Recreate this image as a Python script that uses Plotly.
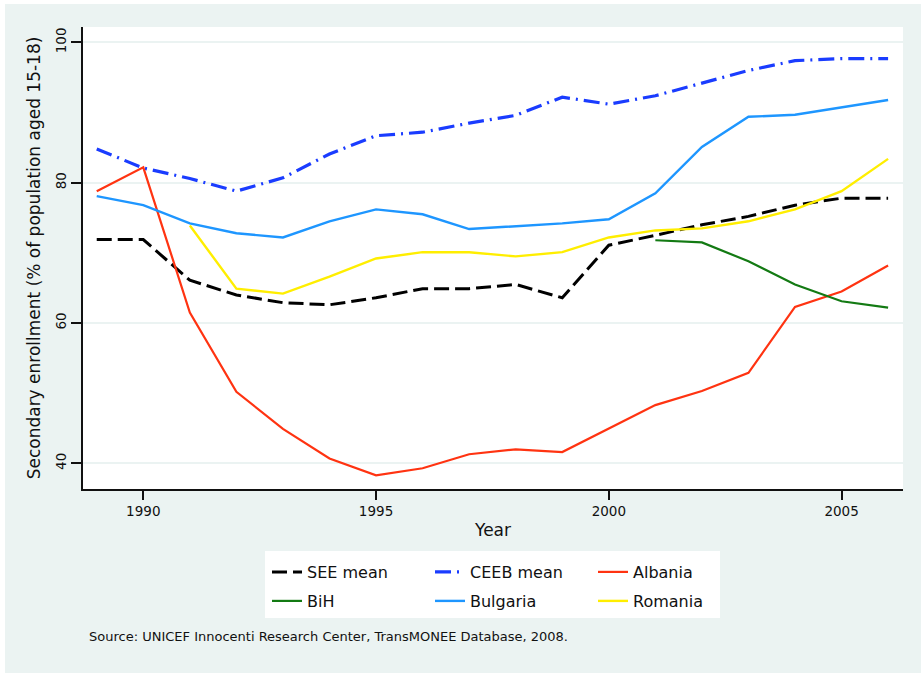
import plotly.graph_objects as go

# ---- data ----
years = list(range(1989, 2007))
see_mean = [71.9, 71.9, 66.1, 64.0, 62.9, 62.6, 63.6, 64.9, 64.9, 65.5, 63.6,
            71.1, 72.5, 74.0, 75.2, 76.8, 77.8, 77.8]
ceeb_mean = [84.8, 82.1, 80.6, 78.8, 80.7, 84.1, 86.7, 87.2, 88.5, 89.6, 92.2,
             91.2, 92.4, 94.2, 96.0, 97.4, 97.7, 97.7]
albania = [78.8, 82.2, 61.5, 50.2, 44.9, 40.7, 38.3, 39.3, 41.3, 42.0, 41.6,
           45.0, 48.3, 50.3, 52.9, 62.3, 64.5, 68.2]
bih_years = list(range(2001, 2007))
bih = [71.8, 71.5, 68.8, 65.5, 63.1, 62.2]
bulgaria = [78.1, 76.8, 74.2, 72.8, 72.2, 74.5, 76.2, 75.5, 73.4, 73.8, 74.2,
            74.8, 78.5, 85.1, 89.4, 89.7, 90.7, 91.8]
romania_years = list(range(1991, 2007))
romania = [73.9, 64.9, 64.2, 66.6, 69.2, 70.1, 70.1, 69.5, 70.1, 72.2, 73.2,
           73.5, 74.5, 76.2, 78.8, 83.4]

x_ticks = [1990, 1995, 2000, 2005]
y_ticks = [40, 60, 80, 100]

FONT = "DejaVu Sans"
BG = "#EBF3F2"

# layout geometry (pixels)
W, H = 921, 673
L, R, T, B = 83, 18, 27, 184
PW, PH = W - L - R, H - T - B


def px_x(p):
    return (p - L) / PW


def px_y(p):
    return 1 - (p - T) / PH


fig = go.Figure()

fig.add_trace(go.Scatter(x=years, y=see_mean, name="SEE mean", mode="lines",
                         line=dict(color="#000000", width=3, dash="15px,6px"),
                         legend="legend"))
fig.add_trace(go.Scatter(x=years, y=ceeb_mean, name="CEEB mean", mode="lines",
                         line=dict(color="#1A3CFF", width=3.2, dash="16px,6px,2px,6px"),
                         legend="legend"))
fig.add_trace(go.Scatter(x=years, y=albania, name="Albania", mode="lines",
                         line=dict(color="#FF3311", width=2.2),
                         legend="legend"))
fig.add_trace(go.Scatter(x=bih_years, y=bih, name="BiH", mode="lines",
                         line=dict(color="#137A13", width=2.2),
                         legend="legend2"))
fig.add_trace(go.Scatter(x=years, y=bulgaria, name="Bulgaria", mode="lines",
                         line=dict(color="#1E96FF", width=2.4),
                         legend="legend2"))
fig.add_trace(go.Scatter(x=romania_years, y=romania, name="Romania", mode="lines",
                         line=dict(color="#FFEE00", width=2.4),
                         legend="legend2"))

leg_common = dict(orientation="h", xref="paper", yref="paper",
                  xanchor="left", yanchor="top",
                  bgcolor="rgba(0,0,0,0)", borderwidth=0,
                  font=dict(family=FONT, size=16, color="#111111"),
                  entrywidth=118, traceorder="normal")

fig.update_layout(
    width=W, height=H,
    margin=dict(l=L, r=R, t=T, b=B),
    paper_bgcolor=BG,
    plot_bgcolor="#FFFFFF",
    font=dict(family=FONT, color="#111111"),
    showlegend=True,
    legend=dict(x=px_x(267), y=px_y(555), **leg_common),
    legend2=dict(x=px_x(267), y=px_y(584), **leg_common),
    xaxis=dict(
        range=[1988.705, 2006.32],
        tickvals=x_ticks, ticktext=[str(v) for v in x_ticks],
        ticks="outside", ticklen=9, tickwidth=2, tickcolor="#111111",
        showline=True, linecolor="#111111", linewidth=2,
        showgrid=False, zeroline=False,
        tickfont=dict(family=FONT, size=13.5, color="#111111"),
        title=dict(text="Year", font=dict(family=FONT, size=17, color="#111111"),
                   standoff=6),
    ),
    yaxis=dict(
        range=[36.34, 102.2],
        tickvals=y_ticks, ticktext=[str(v) for v in y_ticks],
        tickangle=-90,
        ticks="outside", ticklen=10, tickwidth=2, tickcolor="#111111",
        showline=True, linecolor="#111111", linewidth=2,
        showgrid=True, gridcolor=BG, gridwidth=2,
        zeroline=False,
        tickfont=dict(family=FONT, size=13.5, color="#111111"),
        title=dict(text="Secondary enrollment (% of population aged 15-18)",
                   font=dict(family=FONT, size=17, color="#111111"),
                   standoff=8),
    ),
    shapes=[
        # white legend box
        dict(type="rect", xref="paper", yref="paper",
             x0=px_x(265), x1=px_x(720), y0=px_y(618), y1=px_y(551),
             fillcolor="#FFFFFF", line=dict(width=0), layer="below"),
        # white outer strips (top and left)
        dict(type="rect", xref="paper", yref="paper",
             x0=px_x(0), x1=px_x(W), y0=px_y(4), y1=px_y(0),
             fillcolor="#FFFFFF", line=dict(width=0), layer="below"),
        dict(type="rect", xref="paper", yref="paper",
             x0=px_x(0), x1=px_x(5), y0=px_y(H), y1=px_y(0),
             fillcolor="#FFFFFF", line=dict(width=0), layer="below"),
    ],
    annotations=[
        dict(text="Source: UNICEF Innocenti Research Center, TransMONEE Database, 2008.",
             xref="paper", yref="paper", x=px_x(87), y=px_y(636),
             xanchor="left", yanchor="middle", showarrow=False,
             font=dict(family=FONT, size=13, color="#111111")),
    ],
)

fig.write_html(
    "out.html",
    config={"displayModeBar": False},
    post_script="document.body.style.margin='0px';document.body.style.overflow='hidden';",
)
